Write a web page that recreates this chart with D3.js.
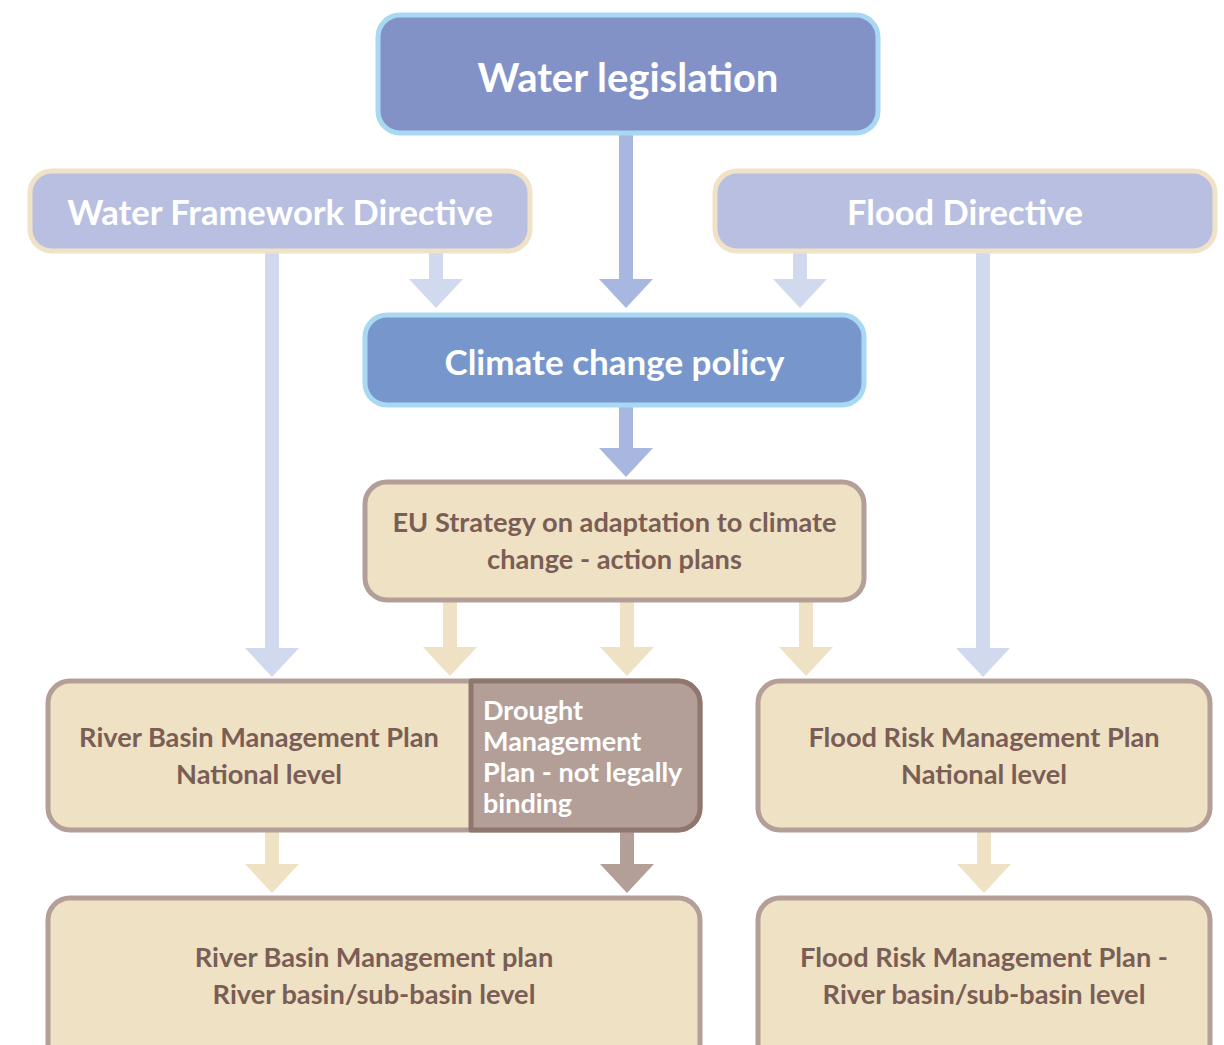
<!DOCTYPE html>
<html>
<head>
<meta charset="utf-8">
<script src="https://cdn.jsdelivr.net/npm/d3@7"></script>
<style>
  html, body { margin: 0; padding: 0; background: #fff; }
  svg { display: block; }
</style>
</head>
<body>
<svg id="chart" width="1224" height="1045"></svg>
<script>
// nodes of the diagram (labels, one line per entry)
const nodeIds = ["legislation", "wfd", "fd", "climate", "euStrategy", "rbmpNat", "drought", "frmpNat", "rbmpBasin", "frmpBasin"];
const nodeLabels = [
  ["Water legislation"],
  ["Water Framework Directive"],
  ["Flood Directive"],
  ["Climate change policy"],
  ["EU Strategy on adaptation to climate", "change - action plans"],
  ["River Basin Management Plan", "National level"],
  ["Drought", "Management", "Plan - not legally", "binding"],
  ["Flood Risk Management Plan", "National level"],
  ["River Basin Management plan", "River basin/sub-basin level"],
  ["Flood Risk Management Plan -", "River basin/sub-basin level"]
];
const nodeKinds = ["top", "directive", "directive", "climate", "plan", "plan", "drought", "plan", "plan", "plan"];

// arrows: from -> to, arrow kind
const linkSources = ["legislation", "wfd", "fd", "wfd", "fd", "climate", "euStrategy", "euStrategy", "euStrategy", "rbmpNat", "drought", "frmpNat"];
const linkTargets = ["climate", "climate", "climate", "rbmpNat", "frmpNat", "euStrategy", "rbmpNat", "drought", "frmpNat", "rbmpBasin", "rbmpBasin", "frmpBasin"];
const linkKinds = ["strong", "light", "light", "light", "light", "strong", "plan", "plan", "plan", "plan", "drought", "plan"];

// ---- layout (pixels) ----
const layout = {
  legislation: { x: 378, y: 15, w: 500, h: 118, r: 22, size: 40, cy: 78 },
  wfd:         { x: 30,  y: 171, w: 500, h: 80, r: 22, size: 34.5, cy: 213 },
  fd:          { x: 715, y: 171, w: 500, h: 80, r: 22, size: 34.5, cy: 213 },
  climate:     { x: 365, y: 315, w: 499, h: 90, r: 22, size: 35, cy: 362 },
  euStrategy:  { x: 365, y: 482, w: 499, h: 118, r: 22, size: 27.2, lh: 37 },
  rbmpNat:     { x: 48,  y: 681, w: 652, h: 149, r: 22, size: 27.2, lh: 37, cx: 259 },
  drought:     { x: 471, y: 681, w: 229, h: 149, r: 22, size: 27, lh: 31, cy: 757 },
  frmpNat:     { x: 758, y: 681, w: 452, h: 149, r: 22, size: 27.2, lh: 37 },
  rbmpBasin:   { x: 48,  y: 898, w: 652, h: 170, r: 22, size: 27.2, lh: 37, cy: 976 },
  frmpBasin:   { x: 758, y: 898, w: 452, h: 170, r: 22, size: 27.2, lh: 37, cy: 976 }
};
// arrow x positions and endpoints
const arrowGeom = [
  { x: 626, y0: 133, y1: 308 },
  { x: 436, y0: 251, y1: 308 },
  { x: 800, y0: 251, y1: 308 },
  { x: 272, y0: 251, y1: 677 },
  { x: 983, y0: 251, y1: 677 },
  { x: 626, y0: 405, y1: 477 },
  { x: 450, y0: 600, y1: 676 },
  { x: 627, y0: 600, y1: 676 },
  { x: 806, y0: 600, y1: 676 },
  { x: 272, y0: 830, y1: 893 },
  { x: 627, y0: 830, y1: 893 },
  { x: 984, y0: 830, y1: 893 }
];

const styles = {
  top:       { fill: "#8292c7", stroke: "#a8d8f2", text: "#ffffff" },
  directive: { fill: "#b9bfe1", stroke: "#efe2c6", text: "#ffffff" },
  climate:   { fill: "#7797cc", stroke: "#a8d8f2", text: "#ffffff" },
  plan:      { fill: "#efe1c4", stroke: "#b39f98", text: "#7a5e56" },
  drought:   { fill: "#b39f98", stroke: "#8f766e", text: "#ffffff" }
};
const arrowColors = { strong: "#a7b7e0", light: "#d0d9ee", plan: "#efe1c4", drought: "#b39f98" };

const svg = d3.select("#chart");
const font = "Lato, 'Open Sans', sans-serif";

// arrows first (below boxes)
const arrowLine = d3.line();
const gArrows = svg.append("g");
linkSources.forEach((s, i) => {
  const g = arrowGeom[i];
  const shaft = 7, head = 27, headH = 29;
  const pts = [
    [g.x - shaft, g.y0], [g.x + shaft, g.y0], [g.x + shaft, g.y1 - headH],
    [g.x + head, g.y1 - headH], [g.x, g.y1], [g.x - head, g.y1 - headH],
    [g.x - shaft, g.y1 - headH]
  ];
  gArrows.append("path")
    .attr("d", arrowLine(pts) + "Z")
    .attr("fill", arrowColors[linkKinds[i]]);
});

// boxes
const gNodes = svg.append("g");
nodeIds.forEach((id, i) => {
  const L = layout[id];
  const st = styles[nodeKinds[i]];
  const g = gNodes.append("g");
  if (id === "drought") {
    // square on the left, rounded on the right
    const p = d3.path();
    const x0 = L.x, y0 = L.y, x1 = L.x + L.w, y1 = L.y + L.h, r = L.r;
    p.moveTo(x0, y0);
    p.lineTo(x1 - r, y0);
    p.arcTo(x1, y0, x1, y0 + r, r);
    p.lineTo(x1, y1 - r);
    p.arcTo(x1, y1, x1 - r, y1, r);
    p.lineTo(x0, y1);
    p.closePath();
    g.append("path").attr("d", p.toString())
      .attr("fill", st.fill).attr("stroke", st.stroke).attr("stroke-width", 5)
      .attr("stroke-linejoin", "round");
  } else {
    g.append("rect")
      .attr("x", L.x).attr("y", L.y).attr("width", L.w).attr("height", L.h)
      .attr("rx", L.r).attr("ry", L.r)
      .attr("fill", st.fill).attr("stroke", st.stroke).attr("stroke-width", 5);
  }
  const lines = nodeLabels[i];
  const lh = L.lh || L.size * 1.2;
  const left = id === "drought";
  const cx = left ? L.x + 12 : (L.cx || L.x + L.w / 2);
  const cy = L.cy || L.y + L.h / 2;
  const t = g.append("text")
    .attr("font-family", font).attr("font-weight", 700)
    .attr("font-size", L.size).attr("fill", st.text)
    .attr("text-anchor", left ? "start" : "middle");
  lines.forEach((ln, j) => {
    t.append("tspan")
      .attr("x", cx)
      .attr("y", cy + (j - (lines.length - 1) / 2) * lh)
      .attr("dy", "0.36em")
      .text(ln);
  });
});
</script>
</body>
</html>
